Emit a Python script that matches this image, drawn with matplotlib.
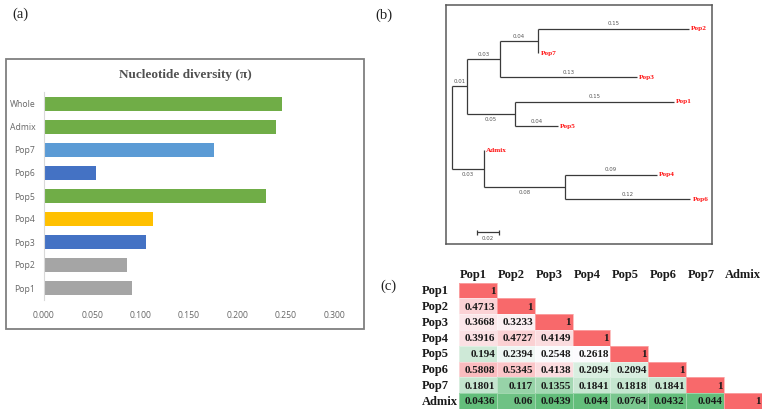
import numpy as np
import matplotlib
matplotlib.use("Agg")
import matplotlib.pyplot as plt
from matplotlib.patches import Rectangle
from matplotlib.colors import LinearSegmentedColormap, TwoSlopeNorm

# (a) nucleotide diversity per group
groups = ["Pop1", "Pop2", "Pop3", "Pop4", "Pop5", "Pop6", "Pop7", "Admix", "Whole"]
pi_values = [0.0915, 0.0863, 0.1059, 0.1125, 0.2302, 0.0543, 0.1758, 0.2405, 0.2463]
bar_colors = ["#A5A5A5", "#A5A5A5", "#4472C4", "#FFC000", "#70AD47",
              "#4472C4", "#5B9BD5", "#70AD47", "#70AD47"]
x_ticks = [0.0, 0.05, 0.1, 0.15, 0.2, 0.25, 0.3]

# (b) neighbour joining tree: (name, branch length, branch label, children)
tree = ("", 0.0, "", [
    ("", 0.014, "0.01", [
        ("", 0.031, "0.03", [
            ("", 0.036, "0.04", [
                ("Pop2", 0.141, "0.15", []),
                ("Pop7", 0.0, "", []),
            ]),
            ("Pop3", 0.128, "0.13", []),
        ]),
        ("", 0.045, "0.05", [
            ("Pop1", 0.149, "0.15", []),
            ("Pop5", 0.040, "0.04", []),
        ]),
    ]),
    ("", 0.030, "0.03", [
        ("Admix", 0.0, "", []),
        ("", 0.076, "0.08", [
            ("Pop4", 0.086, "0.09", []),
            ("Pop6", 0.117, "0.12", []),
        ]),
    ]),
])
scale_len = 0.02

# (c) pairwise matrix (lower triangle)
pops = ["Pop1", "Pop2", "Pop3", "Pop4", "Pop5", "Pop6", "Pop7", "Admix"]
fst_rows = [
    [1],
    [0.4713, 1],
    [0.3668, 0.3233, 1],
    [0.3916, 0.4727, 0.4149, 1],
    [0.194, 0.2394, 0.2548, 0.2618, 1],
    [0.5808, 0.5345, 0.4138, 0.2094, 0.2094, 1],
    [0.1801, 0.117, 0.1355, 0.1841, 0.1818, 0.1841, 1],
    [0.0436, 0.06, 0.0439, 0.044, 0.0764, 0.0432, 0.044, 1],
]

W, H = 766, 415
fig = plt.figure(figsize=(W / 100, H / 100), dpi=100)

def fx(px):
    return px / W

def fy(py):
    return 1 - py / H

serif = "Liberation Serif"

# ---------------- (a) ----------------
fig.text(fx(20), fy(14), "(a)", fontsize=10.5, family=serif, ha="center", va="center", color="#222222")
fig.patches.append(Rectangle((fx(6), fy(329)), fx(358), 270 / H, transform=fig.transFigure,
                             fill=False, edgecolor="#7F7F7F", lw=1.3))
fig.text(fx(185), fy(75), "Nucleotide diversity (\u03c0)", fontsize=9.5, family=serif,
         weight="bold", ha="center", va="center", color="#505050")

ax1 = fig.add_axes([fx(43.7), fy(299.5), fx(334 - 43.7), 207 / H])
ypos = np.arange(len(groups))
ax1.barh(ypos, pi_values, height=0.65, color=bar_colors)
ax1.set_xlim(0, 0.3)
ax1.set_ylim(-0.5, len(groups) - 0.5)
ax1.set_xticks(x_ticks)
ax1.set_xticklabels([f"{t:.3f}" for t in x_ticks])
ax1.set_yticks(ypos)
ax1.set_yticklabels(groups)
ax1.tick_params(length=0, labelsize=6.2, colors="#666666", pad=6)
ax1.tick_params(axis="x", pad=8)
for lab in ax1.get_xticklabels() + ax1.get_yticklabels():
    lab.set_family("Open Sans")
for s in ["top", "right", "bottom"]:
    ax1.spines[s].set_visible(False)
ax1.spines["left"].set_color("#D9D9D9")
ax1.spines["left"].set_linewidth(0.8)

# ---------------- (b) ----------------
fig.text(fx(384), fy(15), "(b)", fontsize=10.5, family=serif, ha="center", va="center", color="#222222")
ax2 = fig.add_axes([fx(446), fy(244), fx(712 - 446), 239 / H])
ax2.set_xlim(-0.00533, 0.2433)
ax2.set_ylim(8.849, -0.974)
ax2.set_xticks([])
ax2.set_yticks([])
for s in ax2.spines.values():
    s.set_color("#595959")
    s.set_linewidth(1.1)

line_kw = dict(color="#3a3a3a", lw=0.9, solid_capstyle="butt")
leaf_count = [0]

def draw(node, x0, lower=False):
    name, length, label, kids = node
    x1 = x0 + length
    if kids:
        ys = [draw(k, x1, lower=(i == len(kids) - 1)) for i, k in enumerate(kids)]
        y = (ys[0] + ys[-1]) / 2
        ax2.plot([x1, x1], [ys[0], ys[-1]], **line_kw)
    else:
        y = leaf_count[0]
        leaf_count[0] += 1
        ax2.annotate(name, (x1, y), xytext=(1.5, 0), textcoords="offset points",
                     fontsize=5.2, family=serif, weight="bold", color="#FF1010",
                     ha="left", va="center")
    if length > 0:
        ax2.plot([x0, x1], [y, y], **line_kw)
    if label:
        below = lower and bool(kids)
        ax2.annotate(label, ((x0 + x1) / 2, y), xytext=(0, -2.2 if below else 1.6),
                     textcoords="offset points", fontsize=3.9, color="#555555",
                     ha="center", va="top" if below else "bottom")
    return y

draw(tree, 0.0)

sb_x, sb_y = 0.0239, 8.37
ax2.plot([sb_x, sb_x + scale_len], [sb_y, sb_y], **line_kw)
ax2.plot([sb_x, sb_x], [sb_y - 0.1, sb_y + 0.1], **line_kw)
ax2.plot([sb_x + scale_len] * 2, [sb_y - 0.1, sb_y + 0.1], **line_kw)
ax2.annotate(f"{scale_len:.2f}", (sb_x + scale_len / 2, sb_y), xytext=(0, -2.5),
             textcoords="offset points", fontsize=3.9, color="#555555", ha="center", va="top")

# ---------------- (c) ----------------
fig.text(fx(388), fy(286), "(c)", fontsize=10.5, family=serif, ha="center", va="center", color="#222222")
n = len(pops)
mat = np.full((n, n), np.nan)
for i, row in enumerate(fst_rows):
    mat[i, :len(row)] = row
vals = np.concatenate([np.array(r, float) for r in fst_rows])
cmap = LinearSegmentedColormap.from_list("excel3", ["#63BE7B", "#FCFCFF", "#F8696B"])
norm = TwoSlopeNorm(vmin=vals.min(), vcenter=np.percentile(vals, 50), vmax=vals.max())

ax3 = fig.add_axes([fx(458.8), fy(409), fx(762 - 458.8), (409 - 282.6) / H])
ax3.pcolormesh(np.arange(n + 1), np.arange(n + 1), np.ma.masked_invalid(mat), cmap=cmap, norm=norm,
               edgecolors=(1, 1, 1, 0.35), linewidth=0.5)
ax3.set_xlim(0, n)
ax3.set_ylim(n, 0)
ax3.axis("off")
for i, row in enumerate(fst_rows):
    for j, v in enumerate(row):
        ax3.text(j + 0.96, i + 0.55, f"{v:g}", ha="right", va="center", fontsize=8,
                 family=serif, weight="bold", color="#1a1a1a")
for j, p in enumerate(pops):
    ax3.text(j + 0.03, -0.12, p, ha="left", va="bottom", fontsize=9, family=serif,
             weight="bold", color="#1a1a1a", clip_on=False)
    ax3.text(-0.97, j + 0.55, p, ha="left", va="center", fontsize=9, family=serif,
             weight="bold", color="#1a1a1a", clip_on=False)

fig.savefig("out.png", dpi=100)
